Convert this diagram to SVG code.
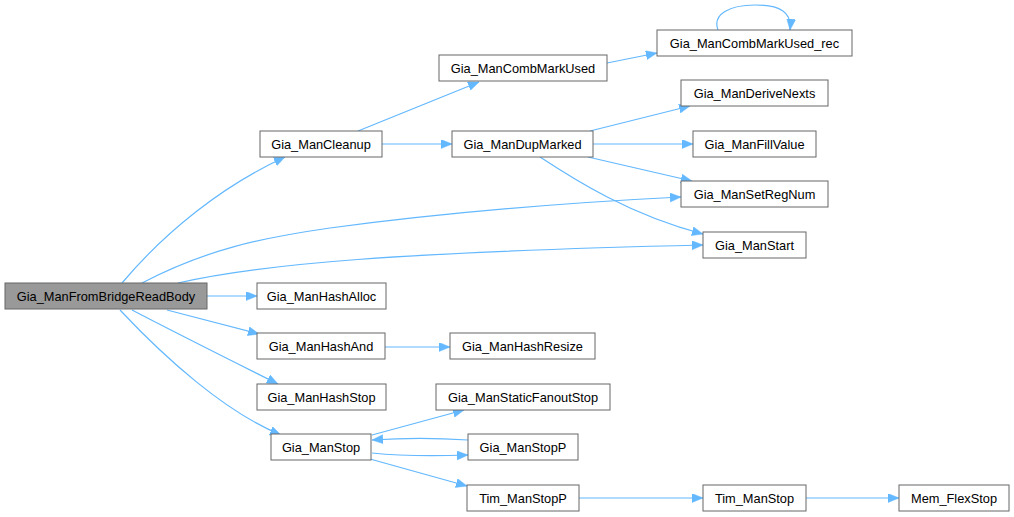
<svg xmlns="http://www.w3.org/2000/svg" width="1014" height="517" viewBox="0 0 1014 517">
<style>
.n rect{fill:#ffffff;stroke:#666666;stroke-width:1}
.n.main rect{fill:#999999}
.n text{font-family:"Liberation Sans",Arial,sans-serif;font-size:12.8px;fill:#000000;text-anchor:middle}
.e path{fill:none;stroke:#63b8ff;stroke-width:1.2;marker-end:url(#ah)}
</style>
<defs>
<marker id="ah" markerUnits="userSpaceOnUse" markerWidth="12" markerHeight="10" refX="11" refY="4.5" orient="auto">
<path d="M0,0 L11,4.5 L0,9 z" fill="#63b8ff" stroke="#63b8ff" stroke-width="0.5"/>
</marker>
</defs>
<rect width="1014" height="517" fill="#ffffff"/>
<g id="edges" class="e">
<path d="M122,283 C165,232 222,186 285,157"/>
<path d="M142,283 C205,250 260,238 330,228 C450,212 580,202 681,197"/>
<path d="M178,283 C260,264 400,252 703,245"/>
<path d="M207,296 L257,296"/>
<path d="M167,310 L259,334"/>
<path d="M132,310 C180,335 230,360 278,384"/>
<path d="M120,310 C165,358 225,412 281,435"/>
<path d="M358,131 L479,82"/>
<path d="M382,144 L452,144"/>
<path d="M607,63 L657,53"/>
<path d="M718,30 C712,14 730,5 755,5 C780,5 792,12 790,30"/>
<path d="M590,131 L690,106"/>
<path d="M593,144 L693,144"/>
<path d="M588,157 L692,181"/>
<path d="M540,157 C575,180 630,215 703,234"/>
<path d="M385,347 L450,347"/>
<path d="M372,435 L464,410"/>
<path d="M468,440 C440,438 400,438 372,440"/>
<path d="M372,453 C400,456 440,456 468,455"/>
<path d="M370,459 L467,486"/>
<path d="M579,498 L703,498"/>
<path d="M806,498 L899,498"/>
</g>
<g id="Gia_ManFromBridgeReadBody" class="n main"><rect x="5" y="283" width="202" height="26"/><text x="106" y="300.5">Gia_ManFromBridgeReadBody</text></g>
<g id="Gia_ManCleanup" class="n"><rect x="260" y="131" width="122" height="26"/><text x="321" y="148.5">Gia_ManCleanup</text></g>
<g id="Gia_ManCombMarkUsed" class="n"><rect x="439" y="55" width="168" height="26"/><text x="523" y="72.5">Gia_ManCombMarkUsed</text></g>
<g id="Gia_ManCombMarkUsed_rec" class="n"><rect x="657" y="30" width="195" height="26"/><text x="754.5" y="47.5">Gia_ManCombMarkUsed_rec</text></g>
<g id="Gia_ManDupMarked" class="n"><rect x="452" y="131" width="141" height="26"/><text x="522.5" y="148.5">Gia_ManDupMarked</text></g>
<g id="Gia_ManDeriveNexts" class="n"><rect x="681" y="80" width="147" height="26"/><text x="754.5" y="97.5">Gia_ManDeriveNexts</text></g>
<g id="Gia_ManFillValue" class="n"><rect x="693" y="131" width="123" height="26"/><text x="754.5" y="148.5">Gia_ManFillValue</text></g>
<g id="Gia_ManSetRegNum" class="n"><rect x="681" y="181" width="147" height="26"/><text x="754.5" y="198.5">Gia_ManSetRegNum</text></g>
<g id="Gia_ManStart" class="n"><rect x="703" y="232" width="103" height="26"/><text x="754.5" y="249.5">Gia_ManStart</text></g>
<g id="Gia_ManHashAlloc" class="n"><rect x="257" y="283" width="129" height="26"/><text x="321.5" y="300.5">Gia_ManHashAlloc</text></g>
<g id="Gia_ManHashAnd" class="n"><rect x="257" y="333" width="128" height="26"/><text x="321" y="350.5">Gia_ManHashAnd</text></g>
<g id="Gia_ManHashResize" class="n"><rect x="450" y="333" width="145" height="26"/><text x="522.5" y="350.5">Gia_ManHashResize</text></g>
<g id="Gia_ManHashStop" class="n"><rect x="257" y="384" width="129" height="26"/><text x="321.5" y="401.5">Gia_ManHashStop</text></g>
<g id="Gia_ManStaticFanoutStop" class="n"><rect x="436" y="384" width="174" height="26"/><text x="523" y="401.5">Gia_ManStaticFanoutStop</text></g>
<g id="Gia_ManStop" class="n"><rect x="271" y="434" width="100" height="26"/><text x="321" y="451.5">Gia_ManStop</text></g>
<g id="Gia_ManStopP" class="n"><rect x="468" y="434" width="110" height="26"/><text x="523" y="451.5">Gia_ManStopP</text></g>
<g id="Tim_ManStopP" class="n"><rect x="467" y="485" width="112" height="26"/><text x="523" y="502.5">Tim_ManStopP</text></g>
<g id="Tim_ManStop" class="n"><rect x="703" y="485" width="103" height="26"/><text x="754.5" y="502.5">Tim_ManStop</text></g>
<g id="Mem_FlexStop" class="n"><rect x="899" y="485" width="110" height="26"/><text x="954" y="502.5">Mem_FlexStop</text></g>
</svg>
